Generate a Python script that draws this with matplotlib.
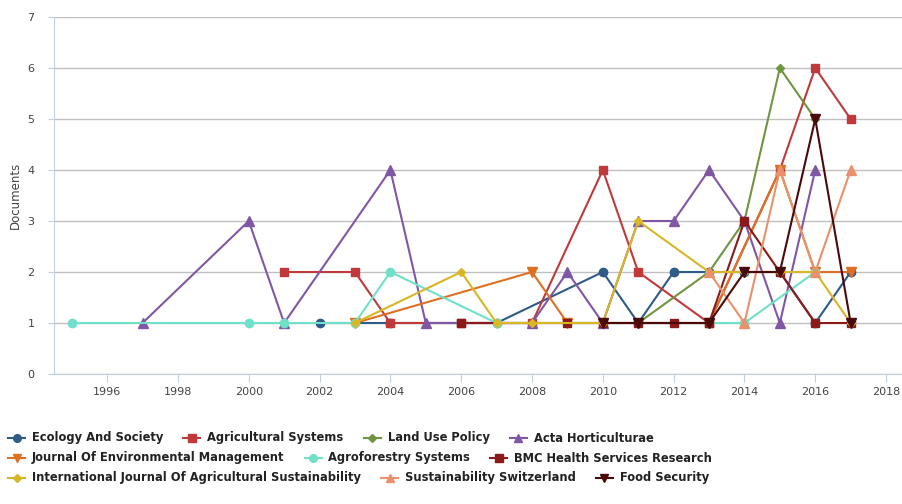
import matplotlib
matplotlib.use("Agg")
import matplotlib.pyplot as plt
from matplotlib.lines import Line2D

# Data (documents per year)
eco_years = [2002, 2004, 2007, 2010, 2011, 2012, 2013, 2014, 2015, 2016, 2017]
eco_vals = [1, 1, 1, 2, 1, 2, 2, 2, 2, 1, 2]

agr_years = [2001, 2003, 2004, 2006, 2008, 2010, 2011, 2013, 2015, 2016, 2017]
agr_vals = [2, 2, 1, 1, 1, 4, 2, 1, 4, 6, 5]

lup_years = [2011, 2013, 2014, 2015, 2016]
lup_vals = [1, 2, 3, 6, 5]

acta_years = [1997, 2000, 2001, 2004, 2005, 2008, 2009, 2010, 2011, 2012, 2013, 2014, 2015, 2016]
acta_vals = [1, 3, 1, 4, 1, 1, 2, 1, 3, 3, 4, 3, 1, 4]

jem_years = [2003, 2008, 2009, 2013, 2015, 2016, 2017]
jem_vals = [1, 2, 1, 1, 4, 2, 2]

agf_years = [1995, 2000, 2001, 2003, 2004, 2007, 2013, 2014, 2016]
agf_vals = [1, 1, 1, 1, 2, 1, 1, 1, 2]

bmc_years = [2006, 2009, 2010, 2011, 2012, 2013, 2014, 2015, 2016, 2017]
bmc_vals = [1, 1, 1, 1, 1, 1, 3, 2, 1, 1]

ijas_years = [2003, 2006, 2007, 2008, 2010, 2011, 2013, 2014, 2015, 2016, 2017]
ijas_vals = [1, 2, 1, 1, 1, 3, 2, 2, 2, 2, 1]

sus_years = [2013, 2014, 2015, 2016, 2017]
sus_vals = [2, 1, 4, 2, 4]

food_years = [2010, 2011, 2013, 2014, 2015, 2016, 2017]
food_vals = [1, 1, 1, 2, 2, 5, 1]

names = [
    "Ecology And Society", "Agricultural Systems", "Land Use Policy", "Acta Horticulturae",
    "Journal Of Environmental Management", "Agroforestry Systems", "BMC Health Services Research",
    "International Journal Of Agricultural Sustainability", "Sustainability Switzerland", "Food Security",
]
series = [
    (eco_years, eco_vals), (agr_years, agr_vals), (lup_years, lup_vals), (acta_years, acta_vals),
    (jem_years, jem_vals), (agf_years, agf_vals), (bmc_years, bmc_vals),
    (ijas_years, ijas_vals), (sus_years, sus_vals), (food_years, food_vals),
]
colors = ["#2f5b88", "#c0393b", "#6f9540", "#8057a5", "#df6f22",
          "#71e0c8", "#8b1a1a", "#d9b623", "#e8916c", "#4a0a0a"]
markers = ["o", "s", "D", "^", "v", "o", "s", "D", "^", "v"]
msizes = [6, 6, 4.5, 6.5, 6.5, 6, 6, 4.5, 6.5, 6.5]
legend_rows = [[0, 1, 2, 3], [4, 5, 6], [7, 8, 9]]

W, H = 902, 504
fig = plt.figure(figsize=(W / 100, H / 100), dpi=100)
ax = fig.add_axes([54 / W, 1 - 374 / H, (W - 54) / W, (374 - 17) / H])

for (xs, ys), c, m, ms in zip(series, colors, markers, msizes):
    ax.plot(xs, ys, color=c, marker=m, markersize=ms, linewidth=1.5,
            markeredgecolor=c, zorder=3, clip_on=False)

ax.set_xlim(1994.5, 2018.45)
ax.set_ylim(0, 7)
ax.set_xticks(range(1996, 2019, 2))
ax.set_yticks(range(0, 8))
ax.yaxis.grid(True, color="#c0c0c0", linewidth=1)
ax.set_axisbelow(True)
for s in ["top", "right"]:
    ax.spines[s].set_visible(False)
for s in ["left", "bottom"]:
    ax.spines[s].set_color("#c0d0e0")
ax.tick_params(axis="x", colors="#c0d0e0", length=6, labelcolor="#444444", labelsize=8)
ax.tick_params(axis="y", colors="#c0d0e0", length=4, labelcolor="#444444", labelsize=8, pad=10)
ax.set_ylabel("Documents", color="#444444", fontsize=8.5, labelpad=4)

# Legend laid out in rows like the original
fig.canvas.draw()
renderer = fig.canvas.get_renderer()
for r, row in enumerate(legend_rows):
    y = 1 - (438 + 20 * r) / H
    x = 8
    for i in row:
        fig.add_artist(Line2D([x / W, (x + 17) / W], [y, y], color=colors[i], linewidth=1.5,
                              transform=fig.transFigure))
        fig.add_artist(Line2D([(x + 8.5) / W], [y], color=colors[i], marker=markers[i],
                              markersize=msizes[i] - 0.5, transform=fig.transFigure))
        t = fig.text((x + 24) / W, y, names[i], fontsize=8.3, fontweight="bold",
                     color="#222222", va="center", ha="left")
        w = t.get_window_extent(renderer).width
        x = x + 24 + w + 20

fig.savefig("out.png", dpi=100)
